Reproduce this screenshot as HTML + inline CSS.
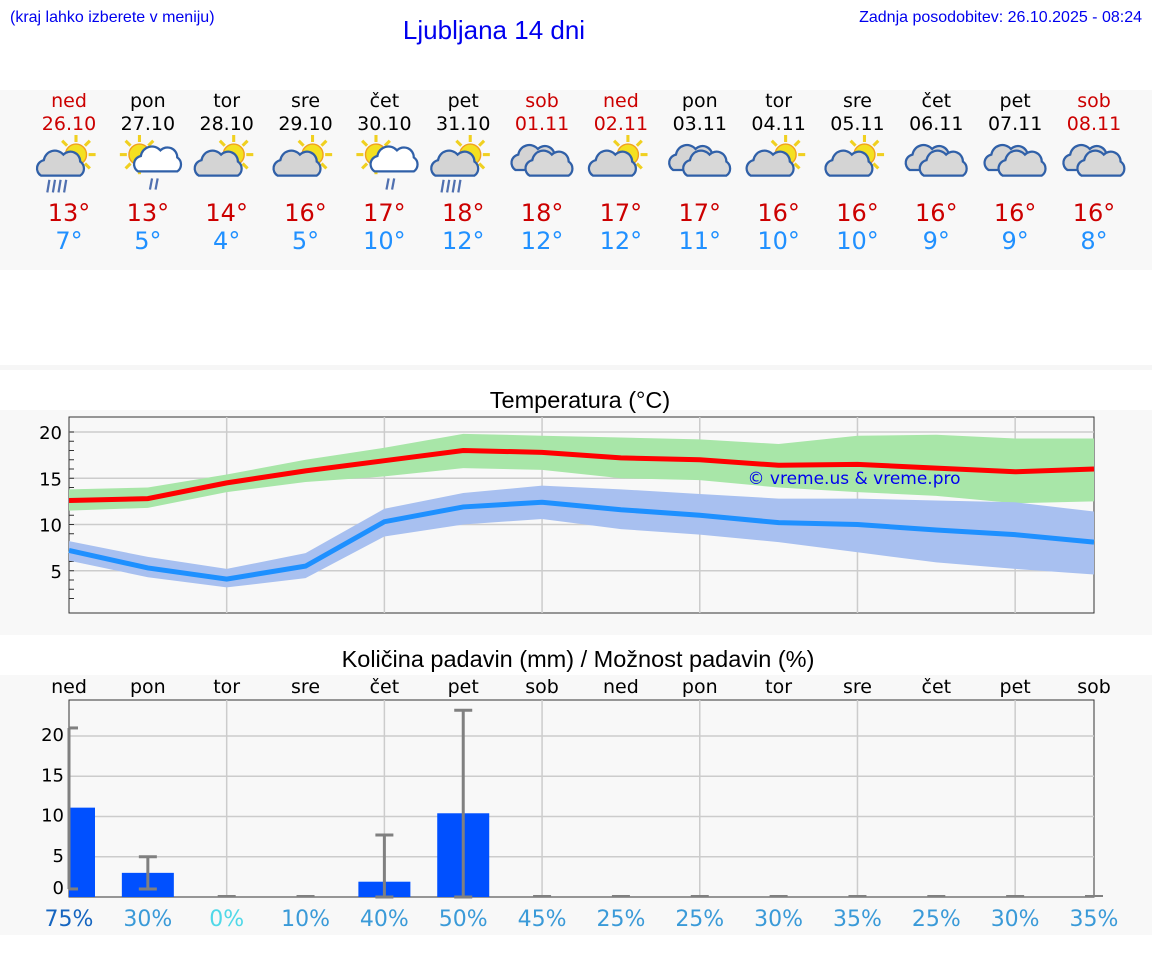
<!DOCTYPE html>
<html><head><meta charset="utf-8"><style>
body{margin:0;width:1152px;height:975px;background:#fff;font-family:"DejaVu Sans","Liberation Sans",sans-serif;overflow:hidden}
svg{position:absolute;left:0;top:0}
</style></head><body>
<svg id="s" width="1152" height="975" xmlns="http://www.w3.org/2000/svg" font-family="DejaVu Sans, Liberation Sans, sans-serif">
<rect x="0" y="90" width="1152" height="180" fill="#f8f8f8"/>
<rect x="0" y="365" width="1152" height="5" fill="#f6f6f6"/>
<rect x="0" y="410" width="1152" height="225" fill="#f8f8f8"/>
<rect x="0" y="675" width="1152" height="260" fill="#f8f8f8"/>
<text x="10" y="22" font-size="16" fill="#0000ee" font-family="Liberation Sans, sans-serif">(kraj lahko izberete v meniju)</text>
<text x="494" y="39" font-size="26" fill="#0000ee" text-anchor="middle" font-family="Liberation Sans, sans-serif">Ljubljana 14 dni</text>
<text x="1142" y="22" font-size="16" fill="#0000ee" text-anchor="end" font-family="Liberation Sans, sans-serif">Zadnja posodobitev: 26.10.2025 - 08:24</text>
<text x="580" y="408" font-size="23.5" text-anchor="middle" fill="#000" font-family="Liberation Sans, sans-serif">Temperatura (°C)</text>
<text x="578" y="667" font-size="23.5" text-anchor="middle" fill="#000" font-family="Liberation Sans, sans-serif">Količina padavin (mm) / Možnost padavin (%)</text>
<g id="g"></g>
</svg>
<script>
const days=["ned","pon","tor","sre","čet","pet","sob","ned","pon","tor","sre","čet","pet","sob"];
const dates=["26.10","27.10","28.10","29.10","30.10","31.10","01.11","02.11","03.11","04.11","05.11","06.11","07.11","08.11"];
const icons=["sunRainHeavy","sunWhiteRain","sunCloud","sunCloud","sunWhiteRain","sunRainHeavy","clouds","sunCloud","clouds","sunCloud","sunCloud","clouds","clouds","clouds"];
const tmax=[12.6,12.8,14.5,15.8,16.9,18,17.8,17.2,17,16.4,16.5,16.1,15.7,16];
const tmin=[7.2,5.3,4.1,5.5,10.3,11.9,12.4,11.6,11,10.2,10,9.4,8.9,8.1];
const maxHi=[13.8,14,15.4,17,18.3,19.8,19.6,19.4,19.2,18.7,19.6,19.7,19.3,19.3];
const maxLo=[11.5,11.8,13.5,14.6,15.2,16.1,15.9,15,14.8,14,13.5,13.1,12.3,12.5];
const minHi=[8.2,6.5,5.2,6.9,11.7,13.4,14.2,13.8,13.3,12.8,12.8,12.6,12.4,11.4];
const minLo=[6.1,4.3,3.2,4.2,8.7,10,10.6,9.5,8.9,8.1,7,5.9,5.2,4.6];
const hiLabels=[13,13,14,16,17,18,18,17,17,16,16,16,16,16];
const loLabels=[7,5,4,5,10,12,12,12,11,10,10,9,9,8];
const precip=[11.1,3,0,0,1.9,10.4,0,0,0,0,0,0,0,0];
const errLo=[1,1,0,0,0,0,0,0,0,0,0,0,0,0];
const errHi=[21,5,0,0,7.7,23.2,0,0,0,0,0,0,0,0];
const chance=[75,30,0,10,40,50,45,25,25,30,35,25,30,35];
const tTicks=[5,10,15,20];
const pTicks=[0,5,10,15,20];

const NS="http://www.w3.org/2000/svg";const G=document.getElementById('g');
function el(t,a,p){const e=document.createElementNS(NS,t);for(const k in a)e.setAttribute(k,a[k]);(p||G).appendChild(e);return e;}
const X0=69,X1=1094;const xd=i=>X0+i*(X1-X0)/13;
const ty=v=>617-v*9.25;const py=v=>897-v*8.05;
const red=new Set([0,6,7,13]);
days.forEach((d,i)=>{const x=xd(i);const c=red.has(i)?"#cc0000":"#000";
 let t=el('text',{x,y:107,'font-size':19,'text-anchor':'middle',fill:c});t.textContent=d;
 
 t=el('text',{x,y:130,'font-size':19,'text-anchor':'middle',fill:c});t.textContent=dates[i];
 
 t=el('text',{x,y:221,'font-size':24,'text-anchor':'middle',fill:'#cc0000'});t.textContent=hiLabels[i]+"°";
 
 t=el('text',{x,y:249,'font-size':24,'text-anchor':'middle',fill:'#2090ff'});t.textContent=loLabels[i]+"°";
 
 const g=el('g',{transform:`translate(${x},163) scale(1.4)`});
 
 const ty_=icons[i];
 function sun(cx,cy){for(let k=0;k<8;k++){const a=k*Math.PI/4;el('line',{x1:cx+Math.cos(a)*9,y1:cy+Math.sin(a)*9,x2:cx+Math.cos(a)*14,y2:cy+Math.sin(a)*14,stroke:'#f0d020','stroke-width':2.2},g);}el('circle',{cx,cy,r:7.5,fill:'#f4e020',stroke:'#f0a020','stroke-width':1},g);}
 function cloud(cx,cy,f){const p=`M${cx-14},${cy+7} a6,6 0 0 1 2,-11 a8,8 0 0 1 14,-4 a7,7 0 0 1 12,5 a6,6 0 0 1 0,10 z`;el('path',{d:p,fill:f,stroke:'#3060a8','stroke-width':1.6},g);}
 if(ty_=="clouds"){cloud(-5,-2,'#d4d4d4');cloud(5,2,'#d8d8d8');}
 else if(ty_=="sunWhiteRain"){sun(-6,-6);cloud(7,-1,'#fff');for(let k=0;k<2;k++)el('line',{x1:3+k*4,y1:11,x2:1.5+k*4,y2:19,stroke:'#5070b0','stroke-width':1.6},g);}
 else {sun(5,-6);cloud(-6,2,'#d4d4d4');if(ty_=="sunRainHeavy")for(let k=0;k<4;k++)el('line',{x1:-14+k*4,y1:12,x2:-15.5+k*4,y2:21,stroke:'#5070b0','stroke-width':1.6},g);}
});
el('rect',{x:X0,y:417,width:X1-X0,height:196,fill:'#f8f8f8',stroke:'#333'});
tTicks.forEach(v=>{el('line',{x1:X0,x2:X1,y1:ty(v),y2:ty(v),stroke:'#ccc','stroke-width':1.5});
 const t=el('text',{x:62,y:ty(v)+7,'font-size':18,'text-anchor':'end',fill:'#000'});t.textContent=v;
 });
for(let v=2;v<=20;v++)el('line',{x1:X0,x2:X0+5,y1:ty(v),y2:ty(v),stroke:'#333'});
for(let i=2;i<13;i+=2)el('line',{x1:xd(i),x2:xd(i),y1:417,y2:613,stroke:'#ccc','stroke-width':1.5});
function band(hi,lo,f,name){let d="M";hi.forEach((v,i)=>d+=`${xd(i)},${ty(v)} L`);for(let i=lo.length-1;i>=0;i--)d+=`${xd(i)},${ty(lo[i])} `+(i?'L':'');
 const p=el('path',{d:d+'Z',fill:f});}
band(maxHi,maxLo,'#a8e6a8','max-temp-band');band(minHi,minLo,'#a8c0f0','min-temp-band');
function line(a,c,name){const p=el('polyline',{points:a.map((v,i)=>xd(i)+','+ty(v)).join(' '),fill:'none',stroke:c,'stroke-width':5});
 }
line(tmax,'#ff0000','max-temp-line');line(tmin,'#1e90ff','min-temp-line');
let wm=el('text',{x:854,y:484,'font-size':17,'text-anchor':'middle',fill:'#0000ee'});wm.textContent="© vreme.us & vreme.pro";

days.forEach((d,i)=>{const t=el('text',{x:xd(i),y:693,'font-size':19,'text-anchor':'middle',fill:'#000'});t.textContent=d;
 });
el('rect',{x:X0,y:700,width:X1-X0,height:197,fill:'#f8f8f8',stroke:'#333'});
pTicks.forEach(v=>{if(v>0)el('line',{x1:X0,x2:X1,y1:py(v),y2:py(v),stroke:'#ccc','stroke-width':1.5});
 const t=el('text',{x:64,y:py(v)+(v?5:-3),'font-size':18,'text-anchor':'end',fill:'#000'});t.textContent=v;
 });
for(let i=2;i<13;i+=2)el('line',{x1:xd(i),x2:xd(i),y1:700,y2:897,stroke:'#ccc','stroke-width':1.5});
precip.forEach((v,i)=>{const x=xd(i);
 if(v>0){const b=el('rect',{x:Math.max(X0,x-26),y:py(v),width:x-26<X0?26:52,height:py(0)-py(v),fill:'#0050ff'});
  }
 if(errHi[i]>0){el('line',{x1:x,x2:x,y1:py(errLo[i]),y2:py(errHi[i]),stroke:'#808080','stroke-width':3});
  el('line',{x1:Math.max(X0,x-9),x2:x+9,y1:py(errHi[i]),y2:py(errHi[i]),stroke:'#808080','stroke-width':3});
  el('line',{x1:Math.max(X0,x-9),x2:x+9,y1:py(errLo[i]),y2:py(errLo[i]),stroke:'#808080','stroke-width':3});}
 else el('line',{x1:x-9,x2:x+9,y1:896,y2:896,stroke:'#808080','stroke-width':2});
 const t=el('text',{x,y:926,'font-size':22,'text-anchor':'middle',fill:i==0?'#1565c0':(chance[i]==0?'#50d8e8':'#3a9ad8')});t.textContent=chance[i]+"%";
 });
</script>
</body></html>
